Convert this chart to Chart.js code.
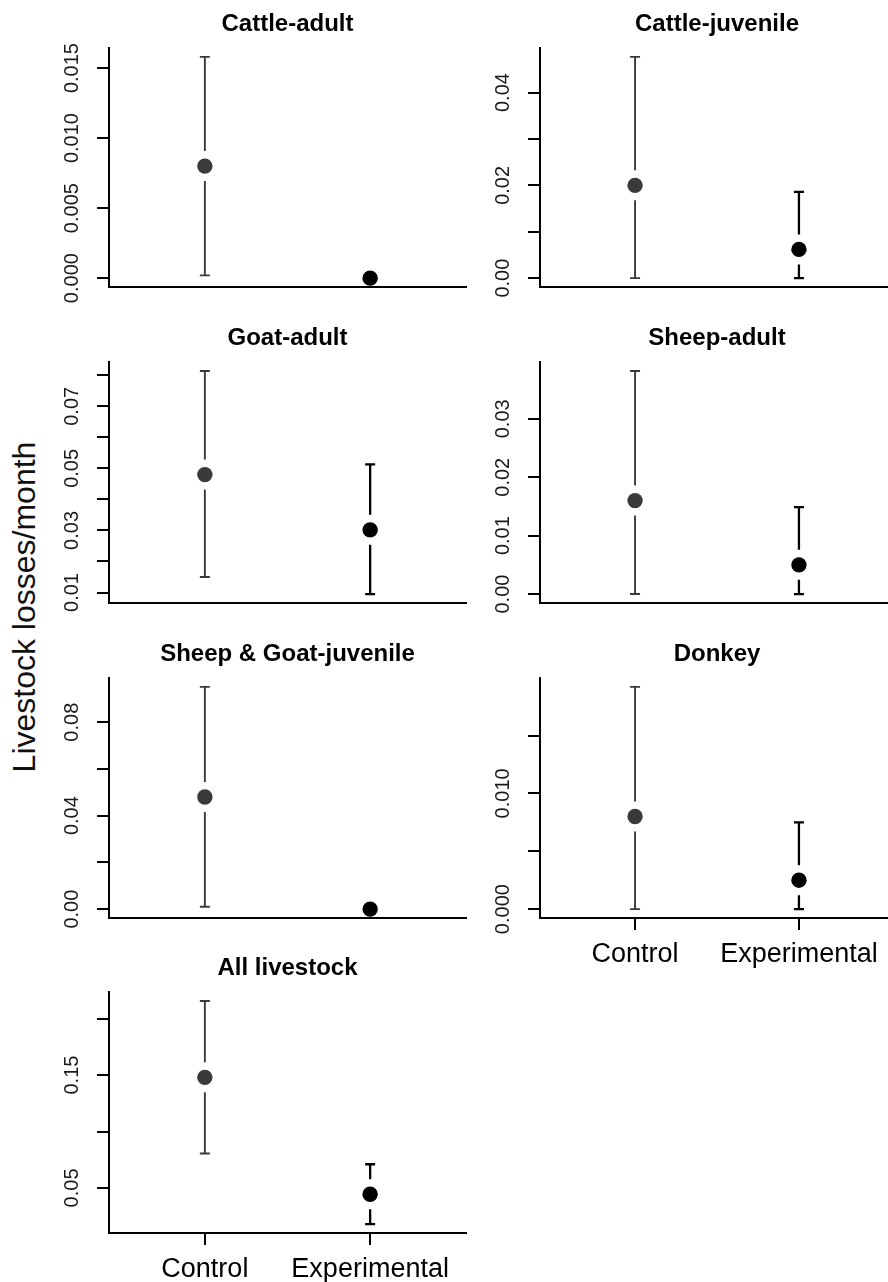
<!DOCTYPE html>
<html>
<head>
<meta charset="utf-8">
<script src="https://cdn.jsdelivr.net/npm/chart.js@4.4.1/dist/chart.umd.min.js"></script>
<style>
  html, body { margin: 0; padding: 0; background: #fff; }
  body { width: 888px; height: 1282px; position: relative; overflow: hidden; font-family: "Liberation Sans", Arial, sans-serif; }
  canvas { position: absolute; }
  #ytitle {
    position: absolute; left: 24px; top: 607px; width: 440px;
    text-align: center; font-size: 32px; line-height: 1; color: #111;
    white-space: nowrap; transform: translate(-50%, -50%) rotate(-90deg);
  }
</style>
</head>
<body>
<div id="ytitle">Livestock losses/month</div>
<script>
/* global Chart */

// one entry per panel, reading order (left to right, top to bottom)
const panelTitles = ["Cattle-adult", "Cattle-juvenile", "Goat-adult", "Sheep-adult", "Sheep & Goat-juvenile", "Donkey", "All livestock"];
const groups = ["Control", "Experimental"];

const controlMean = [0.008, 0.020, 0.048, 0.016, 0.048, 0.008, 0.148];
const controlLower = [0.0002, 0.0, 0.015, 0.0, 0.001, 0.0, 0.0805];
const controlUpper = [0.0158, 0.0477, 0.0814, 0.0382, 0.0951, 0.0192, 0.2157];

const expMean = [0.0, 0.0062, 0.0302, 0.005, 0.0, 0.0025, 0.0444];
const expLower = [0.0, 0.0, 0.0095, 0.0, 0.0, 0.0, 0.018];
const expUpper = [0.0, 0.0186, 0.0513, 0.0149, 0.0, 0.0075, 0.071];

// y tick spacing, decimals, and which ticks carry a label
const tickStep = [0.005, 0.01, 0.01, 0.01, 0.02, 0.005, 0.05];
const tickDigits = [3, 2, 2, 2, 2, 3, 2];
const labelEvery = [1, 2, 2, 1, 2, 2, 2];
const showGroups = [false, false, false, false, false, true, true];

// layout (page pixels)
const COL_LEFT = [109, 540];
const COL_RIGHT = [466, 894];
const ROW_TOP = [48, 362, 678, 992];
const ROW_BOTTOM = [287, 603, 918, 1233];
const AXIS_W = 109;
const TITLE_H = 48;
const XAXIS_H = 65;

const CONTROL_COLOR = "#3a3a3a";
const EXP_COLOR = "#000000";
const GAP = 15;

Chart.defaults.font.family = '"Liberation Sans", Arial, sans-serif';
Chart.defaults.color = "#000";

const measureCtx = document.createElement("canvas").getContext("2d");
function labelPad(labels) {
  measureCtx.font = '20px "Liberation Sans", Arial, sans-serif';
  const w = Math.max(...labels.map((l) => measureCtx.measureText(l).width));
  return 25 - w / 2;
}

function yRange(i) {
  const vals = [controlLower[i], controlUpper[i], expLower[i], expUpper[i], controlMean[i], expMean[i]];
  const lo = Math.min(...vals);
  const hi = Math.max(...vals);
  const pad = (hi - lo) * 0.04;
  return [lo - pad, hi + pad];
}

function yTicks(i, min, max) {
  const s = tickStep[i];
  const out = [];
  for (let k = Math.ceil(min / s - 1e-9); k <= Math.floor(max / s + 1e-9); k++) out.push(+(k * s).toFixed(6));
  return out;
}

const errorBars = {
  id: "errorBars",
  afterDatasetsDraw(chart) {
    const { ctx, scales: { x, y } } = chart;
    const ds = chart.data.datasets[0];
    ds.data.forEach((p, i) => {
      const lo = ds.errLo[i];
      const hi = ds.errHi[i];
      if (hi - lo < 1e-9) return;
      const px = x.getPixelForValue(p.x);
      const py = y.getPixelForValue(p.y);
      const top = y.getPixelForValue(hi);
      const bot = y.getPixelForValue(lo);
      ctx.save();
      ctx.strokeStyle = ds.barColors[i];
      ctx.lineWidth = ds.barWidths[i];
      ctx.beginPath();
      if (py - GAP > top) { ctx.moveTo(px, top); ctx.lineTo(px, py - GAP); }
      if (py + GAP < bot) { ctx.moveTo(px, py + GAP); ctx.lineTo(px, bot); }
      ctx.moveTo(px - 5, top); ctx.lineTo(px + 5, top);
      ctx.moveTo(px - 5, bot); ctx.lineTo(px + 5, bot);
      ctx.stroke();
      ctx.restore();
    });
  },
};

function makePanel(i) {
  const col = i % 2;
  const row = Math.floor(i / 2);
  const left = COL_LEFT[col] - AXIS_W;
  const top = ROW_TOP[row] - TITLE_H;
  const width = COL_RIGHT[col] + 10 - left;
  const height = ROW_BOTTOM[row] + XAXIS_H - top;

  const canvas = document.createElement("canvas");
  canvas.width = width;
  canvas.height = height;
  canvas.style.left = `${left}px`;
  canvas.style.top = `${top}px`;
  canvas.style.width = `${width}px`;
  canvas.style.height = `${height}px`;
  document.body.appendChild(canvas);

  const [min, max] = yRange(i);
  const ticks = yTicks(i, min, max);
  const every = labelEvery[i];
  const fmt = (v, idx) => (idx % every === 0 ? v.toFixed(tickDigits[i]) : "");
  const shown = ticks.map(fmt).filter((l) => l);

  new Chart(canvas, {
    type: "scatter",
    data: {
      datasets: [
        {
          data: [{ x: 1, y: controlMean[i] }, { x: 2, y: expMean[i] }],
          errLo: [controlLower[i], expLower[i]],
          errHi: [controlUpper[i], expUpper[i]],
          barColors: [CONTROL_COLOR, EXP_COLOR],
          barWidths: [1.9, 2.3],
          pointRadius: 7.7,
          pointHoverRadius: 7.7,
          pointBackgroundColor: [CONTROL_COLOR, EXP_COLOR],
          pointBorderWidth: 0,
          clip: false,
        },
      ],
    },
    options: {
      responsive: false,
      animation: false,
      devicePixelRatio: 1,
      layout: { autoPadding: false, padding: { left: 0, right: 10, top: 0, bottom: 0 } },
      plugins: {
        legend: { display: false },
        tooltip: { enabled: false },
        title: {
          display: true,
          text: panelTitles[i],
          fullSize: false,
          color: "#000",
          font: { size: 24, weight: "bold" },
          padding: { top: 9.5, bottom: 9.7 },
        },
      },
      scales: {
        x: {
          type: "linear",
          min: 0.42,
          max: 2.58,
          afterBuildTicks: (s) => { s.ticks = [{ value: 1 }, { value: 2 }]; },
          afterFit: (s) => { s.height = XAXIS_H; },
          border: { display: true, color: "#000", width: 2 },
          grid: { display: showGroups[i], drawOnChartArea: false, drawTicks: true, tickLength: 12, color: "#000", lineWidth: 2 },
          ticks: {
            display: showGroups[i],
            autoSkip: false,
            minRotation: 0,
            maxRotation: 0,
            padding: 8,
            color: "#000",
            font: { size: 27 },
            callback: (v) => groups[v - 1],
          },
        },
        y: {
          min,
          max,
          afterBuildTicks: (s) => { s.ticks = ticks.map((v) => ({ value: v })); },
          afterFit: (s) => { s.width = AXIS_W; },
          border: { display: true, color: "#000", width: 2 },
          grid: { drawOnChartArea: false, drawTicks: true, tickLength: 12, color: "#000", lineWidth: 2 },
          ticks: {
            autoSkip: false,
            minRotation: 90,
            maxRotation: 90,
            crossAlign: "center",
            padding: labelPad(shown),
            color: "#1a1a1a",
            font: { size: 20 },
            callback: fmt,
          },
        },
      },
    },
    plugins: [errorBars],
  });
}

panelTitles.forEach((_, i) => makePanel(i));
</script>
</body>
</html>
